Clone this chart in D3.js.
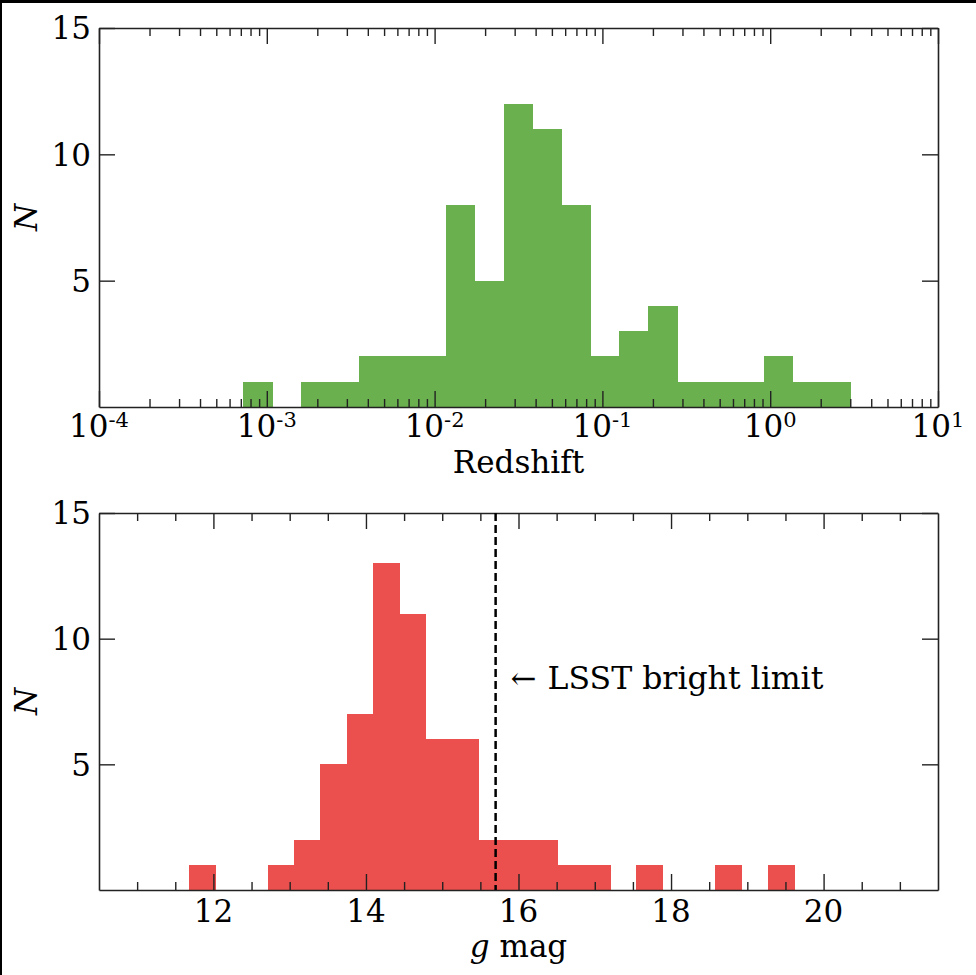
<!DOCTYPE html>
<html>
<head>
<meta charset="utf-8">
<script src="https://cdn.jsdelivr.net/npm/d3@7"></script>
<style>
body { margin: 0; background: #000; }
svg { display: block; }
.tick-label, .axis-label { font-family: "DejaVu Serif", serif; fill: #000; }
</style>
</head>
<body>
<svg width="976" height="975"></svg>
<script>
// redshift histogram (log bins)
const zCounts = [1, 0, 1, 1, 2, 2, 2, 8, 5, 12, 11, 8, 2, 3, 4, 1, 1, 1, 2, 1, 1];
const zLogRange = [-3.14, 0.479];
const zTickExps = [-4, -3, -2, -1, 0, 1];

// g mag histogram
const gCounts = [1, 0, 0, 1, 2, 5, 7, 13, 11, 6, 6, 2, 2, 2, 1, 1, 0, 1, 0, 0, 1, 0, 1];
const gRange = [11.676, 19.617];
const gTicks = [12, 14, 16, 18, 20];

const nTicks = [5, 10, 15];
const lsstLimit = 15.7;
const lsstLabel = "LSST bright limit";

const svg = d3.select("svg");

// page frame (black strip on top and left)
svg.append("rect").attr("width", 976).attr("height", 975).attr("fill", "#000");
svg.append("rect").attr("x", 2).attr("y", 3).attr("width", 974).attr("height", 972).attr("fill", "#fff");

const left = 99, right = 938;
const fs = 31;
const majorLen = 16, minorLen = 8;
const axisColor = "#222";

const xZ = d3.scaleLog().domain([1e-4, 10]).range([left, right]);
const yZ = d3.scaleLinear().domain([0, 15]).range([407, 28]);
const xG = d3.scaleLinear().domain([10.5, 21.5]).range([left, right]);
const yG = d3.scaleLinear().domain([0, 15]).range([890, 513]);

function histBins(counts, lo, hi) {
  const w = (hi - lo) / counts.length;
  return counts.map((c, i) => ({x0: lo + i * w, x1: lo + (i + 1) * w, n: c}));
}

function drawBars(g, bins, x, y, color) {
  g.append("g")
  .attr("shape-rendering", "crispEdges")
  .selectAll("rect")
  .data(bins.filter(d => d.n > 0))
  .enter()
  .append("rect")
  .attr("x", d => x(d.x0))
  .attr("width", d => x(d.x1) - x(d.x0) + 0.5)
  .attr("y", d => y(d.n))
  .attr("height", d => y(0) - y(d.n))
  .attr("fill", color);
}

// inward ticks on all four sides
function drawFrame(x, y, majors, minors) {
  const y0 = y.range()[0], y1 = y.range()[1];
  const x0 = x.range()[0], x1 = x.range()[1];
  const size = v => majors.includes(v) ? majorLen : minorLen;
  const all = majors.concat(minors);

  svg.append("g")
  .attr("transform", `translate(0,${y0})`)
  .call(d3.axisBottom(x).tickValues(all).tickFormat("").tickSizeOuter(0))
  .call(g => g.selectAll(".tick line").attr("y2", d => -size(d)));

  svg.append("g")
  .attr("transform", `translate(0,${y1})`)
  .call(d3.axisTop(x).tickValues(all).tickFormat("").tickSizeOuter(0))
  .call(g => g.selectAll(".tick line").attr("y2", d => size(d)));

  svg.append("g")
  .attr("transform", `translate(${x0},0)`)
  .call(d3.axisLeft(y).tickValues(nTicks).tickFormat("").tickSizeInner(-majorLen).tickSizeOuter(0));

  svg.append("g")
  .attr("transform", `translate(${x1},0)`)
  .call(d3.axisRight(y).tickValues(nTicks).tickFormat("").tickSizeInner(-majorLen).tickSizeOuter(0));

  svg.selectAll(".domain").attr("stroke", axisColor).attr("stroke-width", 1.6);
  svg.selectAll(".tick line").attr("stroke", axisColor).attr("stroke-width", 1.4);

  svg.append("g")
  .selectAll("text")
  .data(nTicks)
  .enter()
  .append("text")
  .attr("class", "tick-label")
  .attr("x", x0 - 8)
  .attr("y", d => y(d) + 0.37 * fs)
  .attr("text-anchor", "end")
  .attr("font-size", fs)
  .text(d => d);

  svg.append("text")
  .attr("class", "axis-label")
  .attr("transform", `translate(37,${(y0 + y1) / 2}) rotate(-90)`)
  .attr("text-anchor", "middle")
  .attr("font-size", fs)
  .attr("font-style", "italic")
  .text("N");
}

// ---- top panel: redshift ----
const zBins = histBins(zCounts, zLogRange[0], zLogRange[1])
.map(d => ({x0: Math.pow(10, d.x0), x1: Math.pow(10, d.x1), n: d.n}));
drawBars(svg, zBins, xZ, yZ, "#6ab04e");

const zMajors = zTickExps.map(e => Math.pow(10, e));
const zMinors = xZ.ticks().filter(v => !zMajors.some(m => Math.abs(v / m - 1) < 1e-6));
drawFrame(xZ, yZ, zMajors, zMinors);

const zLab = svg.append("g")
.selectAll("text")
.data(zTickExps)
.enter()
.append("text")
.attr("class", "tick-label")
.attr("x", d => xZ(Math.pow(10, d)))
.attr("y", 437)
.attr("text-anchor", "middle")
.attr("font-size", fs);
zLab.append("tspan").text("10");
zLab.append("tspan").attr("font-size", 21).attr("dy", -10).text(d => d);

svg.append("text")
.attr("class", "axis-label")
.attr("x", (left + right) / 2)
.attr("y", 473)
.attr("text-anchor", "middle")
.attr("font-size", fs)
.text("Redshift");

// ---- bottom panel: g mag ----
drawBars(svg, histBins(gCounts, gRange[0], gRange[1]), xG, yG, "#eb504e");

const gMinors = d3.range(11, 21.5, 0.5).filter(v => !gTicks.includes(v));
drawFrame(xG, yG, gTicks, gMinors);

svg.append("g")
.selectAll("text")
.data(gTicks)
.enter()
.append("text")
.attr("class", "tick-label")
.attr("x", d => xG(d))
.attr("y", 922)
.attr("text-anchor", "middle")
.attr("font-size", fs)
.text(d => d);

const gLabel = svg.append("text")
.attr("class", "axis-label")
.attr("x", (left + right) / 2)
.attr("y", 957)
.attr("text-anchor", "middle")
.attr("font-size", fs);
gLabel.append("tspan").attr("font-style", "italic").text("g");
gLabel.append("tspan").text(" mag");

// LSST bright limit
svg.append("line")
.attr("x1", xG(lsstLimit))
.attr("x2", xG(lsstLimit))
.attr("y1", yG(15))
.attr("y2", yG(0))
.attr("stroke", "#000")
.attr("stroke-width", 2.5)
.attr("stroke-dasharray", "8,4");

svg.append("text")
.attr("class", "axis-label")
.attr("x", xG(lsstLimit) + 15)
.attr("y", 689)
.attr("font-size", fs)
.text("\u2190");

svg.append("text")
.attr("class", "axis-label")
.attr("x", xG(lsstLimit) + 52)
.attr("y", 689)
.attr("font-size", fs + 0.5)
.text(lsstLabel);
</script>
</body>
</html>
